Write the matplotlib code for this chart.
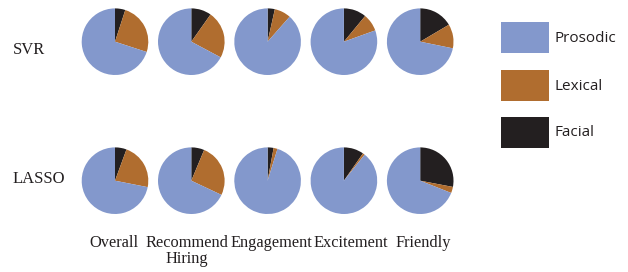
"""Pie grid: feature group contributions for SVR and LASSO."""

import matplotlib.pyplot as plt
from matplotlib.patches import Rectangle

# shares in percent, order: facial, lexical, prosodic (clockwise from 12 o'clock)
traits = ["Overall", "Recommend\nHiring", "Engagement", "Excitement", "Friendly"]
models = ["SVR", "LASSO"]
groups = ["Prosodic", "Lexical", "Facial"]

svr_facial = [5.0, 9.8, 3.5, 11.0, 16.5]
svr_lexical = [25.0, 23.0, 8.0, 8.5, 11.7]
svr_prosodic = [70.0, 67.2, 88.5, 80.5, 71.8]

lasso_facial = [5.6, 6.3, 2.9, 9.7, 28.0]
lasso_lexical = [22.5, 25.7, 1.9, 1.0, 3.0]
lasso_prosodic = [71.9, 68.0, 95.2, 89.3, 69.0]

colors = {"Prosodic": "#8398cc", "Lexical": "#b06d2f", "Facial": "#231f20"}

W, H = 628, 272
fig = plt.figure(figsize=(W / 100, H / 100), dpi=100)

serif = "Liberation Serif"
sans = "Open Sans"

radius = 33.3
x0, dx = 115.0, 76.3
row_y = [41.7, 180.7]
label_x = [114, 186.5, 271, 351, 423]

data = {
    "SVR": (svr_facial, svr_lexical, svr_prosodic),
    "LASSO": (lasso_facial, lasso_lexical, lasso_prosodic),
}

for r, model in enumerate(models):
    fac, lex, pro = data[model]
    cy = row_y[r]
    for i in range(len(traits)):
        cx = x0 + i * dx
        ax = fig.add_axes([(cx - radius) / W, 1 - (cy + radius) / H,
                           2 * radius / W, 2 * radius / H])
        ax.pie([fac[i], lex[i], pro[i]],
               colors=[colors["Facial"], colors["Lexical"], colors["Prosodic"]],
               startangle=90, counterclock=False,
               wedgeprops=dict(linewidth=0))
        ax.set_xlim(-1, 1)
        ax.set_ylim(-1, 1)
        ax.axis("off")

# row labels
fig.text(13 / W, 1 - 50 / H, "SVR", family=serif, fontsize=12,
         ha="left", va="center", color="#231f20")
fig.text(13 / W, 1 - 179 / H, "LASSO", family=serif, fontsize=12,
         ha="left", va="center", color="#231f20")

# column labels
for i, name in enumerate(traits):
    fig.text(label_x[i] / W, 1 - 235 / H, name, family=serif, fontsize=11.8,
             ha="center", va="top", color="#231f20", linespacing=1.0)

# legend
patch_top = [22, 70, 117]
for name, top in zip(groups, patch_top):
    fig.patches.append(Rectangle((501 / W, 1 - (top + 31) / H), 48 / W, 31 / H,
                                 transform=fig.transFigure,
                                 facecolor=colors[name], edgecolor="none"))
    fig.text(555 / W, 1 - (top + 16) / H, name, family=sans, fontsize=11,
             ha="left", va="center", color="#231f20")

fig.savefig("out.png", dpi=100)
plt.close(fig)
